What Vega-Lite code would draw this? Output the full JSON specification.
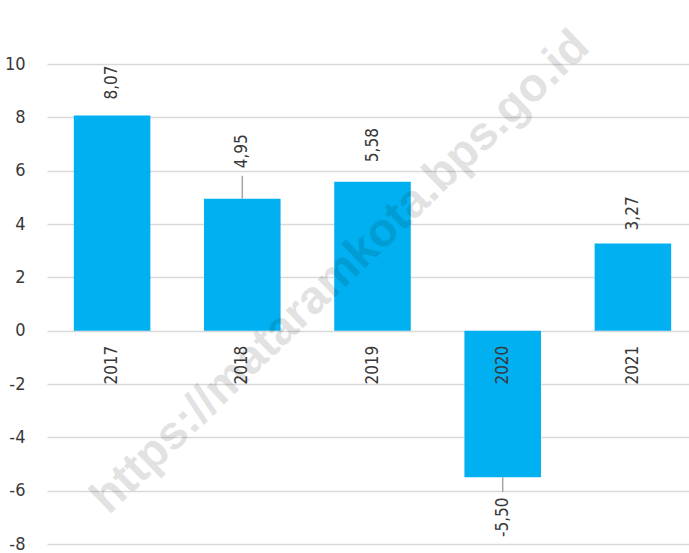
{
  "$schema": "https://vega.github.io/schema/vega-lite/v6.json",
  "autosize": "none",
  "width": 651,
  "height": 480,
  "padding": {"left": 47, "top": 64, "right": 0, "bottom": 9},
  "background": "white",
  "config": {
    "view": {"stroke": null},
    "font": "DejaVu Sans Condensed, Liberation Sans Narrow, sans-serif",
    "axis": {"labelFont": "DejaVu Sans Condensed, Liberation Sans Narrow, sans-serif"}
  },
  "data": {
    "values": [
      {"year": "2017", "v": 8.07, "label": "8,07", "labelPos": 8.67, "leaderEnd": null},
      {"year": "2018", "v": 4.95, "label": "4,95", "labelPos": 6.09, "leaderEnd": 5.81},
      {"year": "2019", "v": 5.58, "label": "5,58", "labelPos": 6.32, "leaderEnd": null},
      {"year": "2020", "v": -5.5, "label": "-5,50", "labelPos": -7.74, "leaderEnd": -6.05},
      {"year": "2021", "v": 3.27, "label": "3,27", "labelPos": 3.76, "leaderEnd": null}
    ]
  },
  "encoding": {
    "x": {
      "field": "year",
      "type": "nominal",
      "axis": null,
      "scale": {"paddingInner": 0.412, "paddingOuter": 0.206}
    }
  },
  "layer": [
    {
      "mark": {"type": "bar", "color": "#00B0F0"},
      "encoding": {
        "y": {
          "field": "v",
          "type": "quantitative",
          "scale": {"domain": [-8, 10], "nice": false, "zero": false},
          "axis": {
            "values": [-8, -6, -4, -2, 0, 2, 4, 6, 8, 10],
            "title": null,
            "domain": false,
            "ticks": false,
            "labelFontSize": 18,
            "labelColor": "#383838",
            "labelPadding": 22,
            "gridColor": "#d9d9d9",
            "gridWidth": 1.5,
            "labelExpr": "datum.value"
          }
        }
      }
    },
    {
      "transform": [{"filter": "datum.leaderEnd != null"}],
      "mark": {"type": "rule", "color": "#a6a6a6", "strokeWidth": 1.5},
      "encoding": {
        "y": {"field": "v", "type": "quantitative"},
        "y2": {"field": "leaderEnd"}
      }
    },
    {
      "mark": {"type": "text", "angle": 270, "align": "left", "baseline": "middle", "fontSize": 17, "color": "#383838"},
      "encoding": {
        "y": {"field": "labelPos", "type": "quantitative"},
        "text": {"field": "label"}
      }
    },
    {
      "mark": {"type": "text", "angle": 270, "align": "right", "baseline": "middle", "fontSize": 17, "color": "#383838", "dx": -15},
      "encoding": {
        "y": {"datum": 0},
        "text": {"field": "year"}
      }
    },
    {
      "data": {"values": [{"wm": "https://mataramkota.bps.go.id", "wx": "2019", "wy": 2.19}]},
      "mark": {"type": "text", "angle": 316, "align": "center", "baseline": "middle", "font": "Liberation Sans", "fontWeight": "bold", "fontSize": 47, "color": "#000000", "opacity": 0.11, "xOffset": -32},
      "encoding": {
        "x": {"field": "wx", "type": "nominal"},
        "y": {"field": "wy", "type": "quantitative"},
        "text": {"field": "wm"}
      }
    }
  ]
}
